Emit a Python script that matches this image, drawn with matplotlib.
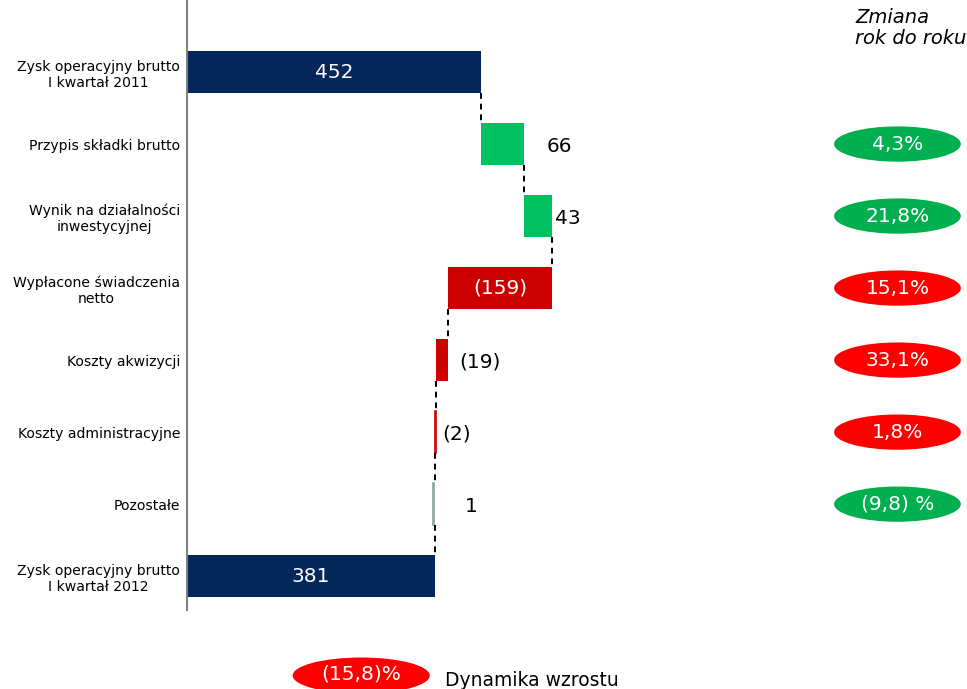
import matplotlib.pyplot as plt
from matplotlib.patches import Ellipse

# data
categories = ['Zysk operacyjny brutto\nI kwartał 2011', 'Przypis składki brutto',
              'Wynik na działalności\ninwestycyjnej', 'Wypłacone świadczenia\nnetto',
              'Koszty akwizycji', 'Koszty administracyjne', 'Pozostałe',
              'Zysk operacyjny brutto\nI kwartał 2012']
start_value = 452
changes = [66, 43, -159, -19, -2, 1]
end_value = 381
value_labels = ['452', '66', '43', '(159)', '(19)', '(2)', '1', '381']
yoy_labels = ['4,3%', '21,8%', '15,1%', '33,1%', '1,8%', '(9,8) %']
yoy_good = [True, True, False, False, False, True]
total_change = '(15,8)%'

navy = '#06275A'
green_bar = '#00C060'
red_bar = '#CC0000'
green_pill = '#00B050'
red_pill = '#FF0000'

fig = plt.figure(figsize=(9.67, 6.89), dpi=100)
ax = fig.add_axes([187 / 967, 79 / 689, 780 / 967, 610 / 689])
ax.set_xlim(0, 1200)
ax.set_ylim(7.47, -1.0)

h = 0.58
# bars
lefts, widths, colors = [0], [start_value], [navy]
level = start_value
for c in changes:
    lefts.append(level if c > 0 else level + c)
    widths.append(abs(c))
    colors.append(green_bar if c > 0 else red_bar)
    level += c
lefts.append(0)
widths.append(end_value)
colors.append(navy)
colors[6] = '#8FA89A'
bars = ax.barh(range(len(categories)), widths, left=lefts, height=h, color=colors)
for b, w, col in zip(bars, widths, colors):
    if w < 5:
        b.set_edgecolor(col)
        b.set_linewidth(1.2)
bars[6].set_x(lefts[6] - 2)

# connectors
level = start_value
ends = [start_value]
for c in changes:
    level += c
    ends.append(level)
for i in range(len(categories) - 1):
    x = ends[i] if i < 6 else end_value
    ax.plot([x, x], [i + h / 2, i + 1 - h / 2], color='black', lw=1.4,
            ls=(0, (3, 2.5)), zorder=3)

# value labels
inside = {0, 3, 7}
label_off = [0, 35, 5, 0, 17, 9, 45, 0]
for i, lab in enumerate(value_labels):
    if i in inside:
        ax.text(lefts[i] + widths[i] / 2, i, lab, color='white', fontsize=14.5,
                ha='center', va='center')
    else:
        ax.text(lefts[i] + widths[i] + label_off[i], i + 0.03, lab, color='black',
                fontsize=14.5, ha='left', va='center')

# yoy pills
for i, (lab, good) in enumerate(zip(yoy_labels, yoy_good)):
    y = i + 1
    ax.add_patch(Ellipse((1093, y), 195, 0.49, color=green_pill if good else red_pill,
                         clip_on=False, lw=0))
    ax.text(1093, y, lab, color='white', fontsize=14.5, ha='center', va='center')

fig.text(855 / 967, 1 - 8 / 689, 'Zmiana\nrok do roku', fontsize=14, style='italic',
         ha='left', va='top', linespacing=1.1)

# bottom legend
ax.add_patch(Ellipse((268, 8.38), 211, 0.5, color=red_pill, clip_on=False, lw=0))
ax.text(268, 8.36, total_change, color='white', fontsize=14.5, ha='center', va='center',
        clip_on=False)
ax.text(397, 8.45, 'Dynamika wzrostu', color='black', fontsize=13.5, ha='left',
        va='center', clip_on=False)

ax.set_yticks(range(len(categories)))
ax.set_yticklabels(categories, fontsize=10.1, multialignment='center')
ax.tick_params(axis='y', length=0, pad=5)
ax.set_xticks([])
for s in ['top', 'right', 'bottom']:
    ax.spines[s].set_visible(False)
ax.spines['left'].set_color('#808080')
ax.spines['left'].set_linewidth(1.5)

fig.savefig('out.png', dpi=100)
